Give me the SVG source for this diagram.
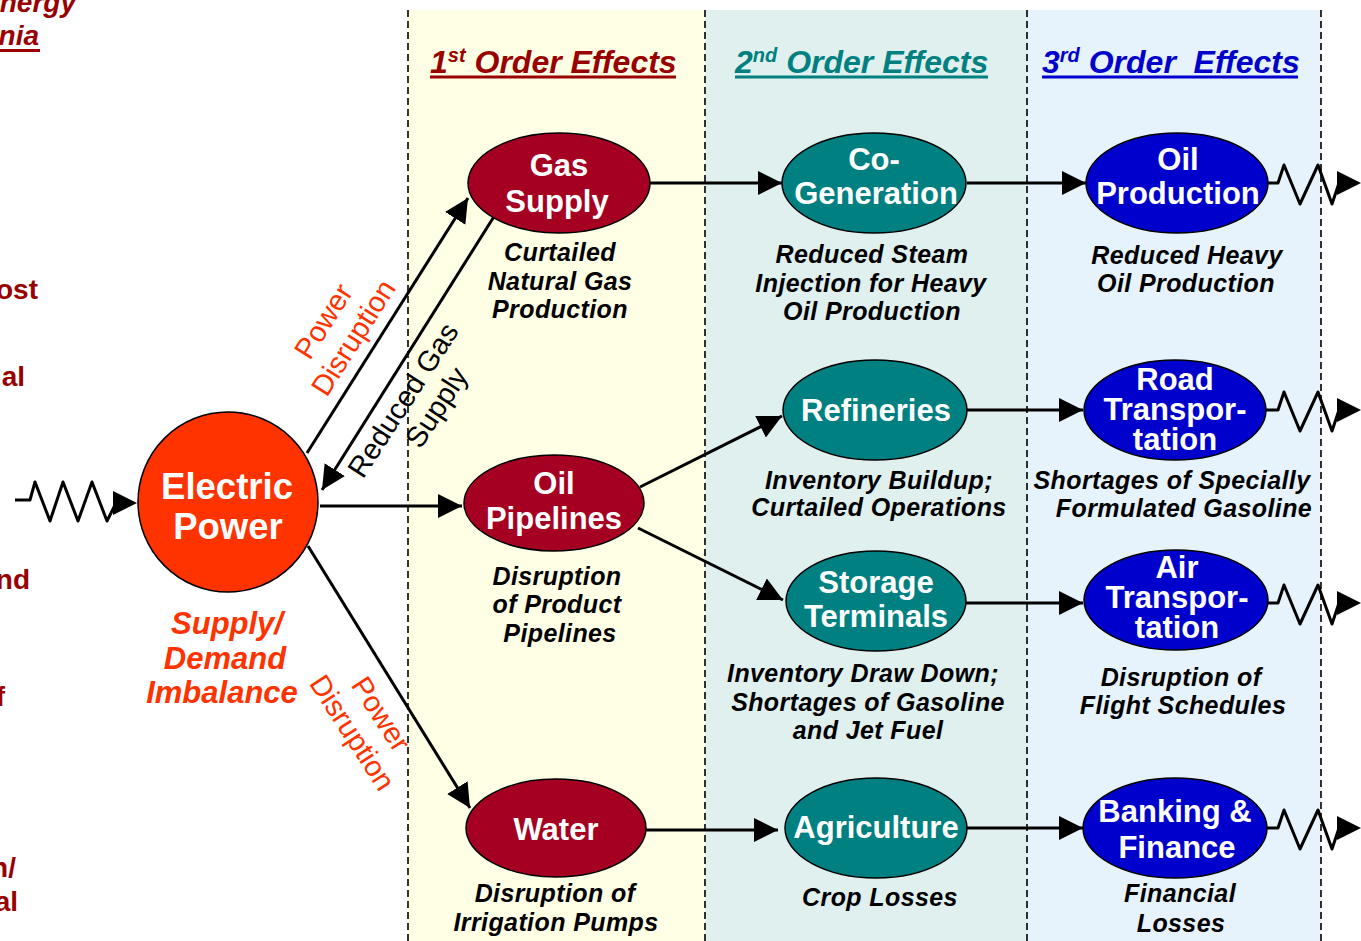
<svg xmlns="http://www.w3.org/2000/svg" width="1361" height="941" viewBox="0 0 1361 941">
<defs>
<marker id="ah" markerUnits="userSpaceOnUse" markerWidth="26" markerHeight="26" viewBox="0 0 26 26" refX="24" refY="13" orient="auto"><path d="M0,1 L24,13 L0,25 Z" fill="#000"/></marker>
<style>
.col-line{stroke:#000;stroke-width:1.6;stroke-dasharray:7,4;fill:none}
.hdr{font-family:"Liberation Sans",Arial,sans-serif;font-size:32px;font-weight:bold;font-style:italic;white-space:pre}
.sup{font-size:20px}
.node-t{font-family:"Liberation Sans",Arial,sans-serif;font-size:31px;font-weight:bold;fill:#fff;text-anchor:middle}
.big{font-size:36.5px}
.cap{font-family:"Liberation Sans",Arial,sans-serif;font-size:25px;letter-spacing:0.4px;font-weight:bold;font-style:italic;fill:#000;text-anchor:middle}
.sdi{font-family:"Liberation Sans",Arial,sans-serif;font-size:31px;font-weight:bold;font-style:italic;fill:#FF3300;text-anchor:middle}
.edge{stroke:#000;stroke-width:3;fill:none}
.red{fill:#A50021;stroke:#000;stroke-width:1.5}
.teal{fill:#008080;stroke:#000;stroke-width:1.5}
.blue{fill:#0000CC;stroke:#000;stroke-width:1.5}
.lbl{font-family:"Liberation Sans",Arial,sans-serif;font-size:29px;text-anchor:middle}
.cut{font-family:"Liberation Sans",Arial,sans-serif;font-size:28px;font-weight:bold;fill:#990000;text-anchor:end}
</style>
</defs>
<rect x="0" y="0" width="1361" height="941" fill="#fff"/>
<g id="columns">
<rect x="408" y="10" width="297" height="931" fill="#FFFFE5"/>
<rect x="705" y="10" width="322" height="931" fill="#DFF0EF"/>
<rect x="1027" y="10" width="294" height="931" fill="#E6F3FC"/>
<line class="col-line" x1="408" y1="10" x2="408" y2="941"/>
<line class="col-line" x1="705" y1="10" x2="705" y2="941"/>
<line class="col-line" x1="1027" y1="10" x2="1027" y2="941"/>
<line class="col-line" x1="1321" y1="10" x2="1321" y2="941"/>
</g>
<g id="cut-text">
<text class="cut" x="76" y="12" font-style="italic">nergy</text>
<text class="cut" x="39" y="45" font-style="italic">nia</text>
<line x1="0" y1="50.5" x2="40" y2="50.5" stroke="#990000" stroke-width="3"/>
<text class="cut" x="38" y="299">ost</text>
<text class="cut" x="25" y="386">al</text>
<text class="cut" x="30" y="589">nd</text>
<text class="cut" x="5" y="706">f</text>
<text class="cut" x="16" y="877">n/</text>
<text class="cut" x="18" y="911">al</text>
</g>
<g id="headers">
<text class="hdr" x="430" y="73" fill="#990000">1<tspan class="sup" dy="-11">st</tspan><tspan dy="11"> Order Effects</tspan></text>
<line x1="430" y1="77" x2="676" y2="77" stroke="#990000" stroke-width="3"/>
<text class="hdr" x="735" y="73" fill="#008080">2<tspan class="sup" dy="-11">nd</tspan><tspan dy="11"> Order Effects</tspan></text>
<line x1="735" y1="77" x2="988" y2="77" stroke="#008080" stroke-width="3"/>
<text class="hdr" x="1042" y="73" fill="#0000CC">3<tspan class="sup" dy="-11">rd</tspan><tspan dy="11"> Order  Effects</tspan></text>
<line x1="1042" y1="77" x2="1298" y2="77" stroke="#0000CC" stroke-width="3"/>
</g>
<g id="connectors">
<line class="edge" x1="307" y1="453" x2="468" y2="198" marker-end="url(#ah)"/>
<line class="edge" x1="495" y1="215" x2="322" y2="490" marker-end="url(#ah)"/>
<line class="edge" x1="320" y1="506" x2="462" y2="506" marker-end="url(#ah)"/>
<line class="edge" x1="308" y1="546" x2="470" y2="808" marker-end="url(#ah)"/>
<line class="edge" x1="650" y1="183" x2="782" y2="183" marker-end="url(#ah)"/>
<line class="edge" x1="640" y1="487" x2="782" y2="416" marker-end="url(#ah)"/>
<line class="edge" x1="638" y1="528" x2="783" y2="600" marker-end="url(#ah)"/>
<line class="edge" x1="646" y1="830" x2="778" y2="830" marker-end="url(#ah)"/>
<line class="edge" x1="967" y1="183" x2="1086" y2="183" marker-end="url(#ah)"/>
<line class="edge" x1="966" y1="410" x2="1083" y2="410" marker-end="url(#ah)"/>
<line class="edge" x1="966" y1="603" x2="1083" y2="603" marker-end="url(#ah)"/>
<line class="edge" x1="966" y1="828" x2="1083" y2="828" marker-end="url(#ah)"/>
<polyline class="edge" stroke-linejoin="round" points="15,500 30,500 35,482 50,521 63,482 78,521 92,482 107,521 116,503"/>
<polygon points="113,491 137,503 113,515" fill="#000"/>
<polyline class="edge" stroke-linejoin="round" points="1268,183 1278,183 1284,165 1300,204 1318,165 1332,204 1339,183"/>
<polygon points="1337,171 1361,183 1337,195" fill="#000"/>
<polyline class="edge" stroke-linejoin="round" points="1266,410 1278,410 1284,392 1300,431 1318,392 1332,431 1339,410"/>
<polygon points="1337,398 1361,410 1337,422" fill="#000"/>
<polyline class="edge" stroke-linejoin="round" points="1268,603 1278,603 1284,585 1300,624 1318,585 1332,624 1339,603"/>
<polygon points="1337,591 1361,603 1337,615" fill="#000"/>
<polyline class="edge" stroke-linejoin="round" points="1267,828 1278,828 1284,810 1300,849 1318,810 1332,849 1339,828"/>
<polygon points="1337,816 1361,828 1337,840" fill="#000"/>
</g>
<g id="edge-labels">
<text class="lbl" fill="#FF3300" transform="translate(338,328) rotate(-57.6)"><tspan x="-2" y="-6">Power</tspan><tspan x="0" y="28">Disruption</tspan></text>
<text class="lbl" fill="#000" transform="translate(403,400) rotate(-57)"><tspan x="0" y="10">Reduced Gas</tspan><tspan x="12" y="42">Supply</tspan></text>
<text class="lbl" fill="#FF3300" transform="translate(381,714) rotate(57)"><tspan x="0" y="10">Power</tspan><tspan x="0" y="44">Disruption</tspan></text>
</g>
<g id="electric-power">
<circle cx="228" cy="502" r="90" fill="#FF3300" stroke="#000" stroke-width="1.5"/>
<text class="node-t big" x="227" y="499">Electric</text>
<text class="node-t big" x="228" y="539">Power</text>
<text class="sdi" x="227" y="634">Supply/</text>
<text class="sdi" x="225" y="669">Demand</text>
<text class="sdi" x="222" y="703">Imbalance</text>
</g>
<g id="gas-supply">
<ellipse class="red" cx="559" cy="183" rx="91" ry="50"/>
<text class="node-t" x="559" y="176">Gas</text>
<text class="node-t" x="557" y="212">Supply</text>
<text class="cap" x="560" y="261">Curtailed</text>
<text class="cap" x="560" y="290">Natural Gas</text>
<text class="cap" x="560" y="318">Production</text>
</g>
<g id="oil-pipelines">
<ellipse class="red" cx="554" cy="503" rx="90" ry="48"/>
<text class="node-t" x="554" y="494">Oil</text>
<text class="node-t" x="554" y="529">Pipelines</text>
<text class="cap" x="557" y="585">Disruption</text>
<text class="cap" x="557" y="613">of Product</text>
<text class="cap" x="560" y="642">Pipelines</text>
</g>
<g id="water">
<ellipse class="red" cx="556" cy="828" rx="90" ry="49"/>
<text class="node-t" x="556" y="840">Water</text>
<text class="cap" x="555" y="902">Disruption of</text>
<text class="cap" x="556" y="931">Irrigation Pumps</text>
</g>
<g id="co-generation">
<ellipse class="teal" cx="874" cy="183" rx="92" ry="50"/>
<text class="node-t" x="874" y="170">Co-</text>
<text class="node-t" x="876" y="204">Generation</text>
<text class="cap" x="872" y="263">Reduced Steam</text>
<text class="cap" x="871" y="292">Injection for Heavy</text>
<text class="cap" x="872" y="320">Oil Production</text>
</g>
<g id="refineries">
<ellipse class="teal" cx="875" cy="410" rx="92" ry="50"/>
<text class="node-t" x="876" y="421">Refineries</text>
<text class="cap" x="879" y="489">Inventory Buildup;</text>
<text class="cap" x="879" y="516">Curtailed Operations</text>
</g>
<g id="storage-terminals">
<ellipse class="teal" cx="876" cy="601" rx="90" ry="50"/>
<text class="node-t" x="876" y="593">Storage</text>
<text class="node-t" x="876" y="627">Terminals</text>
<text class="cap" x="863" y="682">Inventory Draw Down;</text>
<text class="cap" x="868" y="711">Shortages of Gasoline</text>
<text class="cap" x="868" y="739">and Jet Fuel</text>
</g>
<g id="agriculture">
<ellipse class="teal" cx="876" cy="828" rx="91" ry="50"/>
<text class="node-t" x="876" y="838">Agriculture</text>
<text class="cap" x="880" y="906">Crop Losses</text>
</g>
<g id="oil-production">
<ellipse class="blue" cx="1177" cy="183" rx="91" ry="50"/>
<text class="node-t" x="1178" y="170">Oil</text>
<text class="node-t" x="1178" y="204">Production</text>
<text class="cap" x="1187" y="264">Reduced Heavy</text>
<text class="cap" x="1186" y="292">Oil Production</text>
</g>
<g id="road-transportation">
<ellipse class="blue" cx="1175" cy="410" rx="91" ry="50"/>
<text class="node-t" x="1175" y="390">Road</text>
<text class="node-t" x="1175" y="420">Transpor-</text>
<text class="node-t" x="1175" y="450">tation</text>
<text class="cap" x="1172" y="489">Shortages of Specially</text>
<text class="cap" x="1184" y="517">Formulated Gasoline</text>
</g>
<g id="air-transportation">
<ellipse class="blue" cx="1176" cy="600" rx="92" ry="50"/>
<text class="node-t" x="1177" y="578">Air</text>
<text class="node-t" x="1177" y="608">Transpor-</text>
<text class="node-t" x="1177" y="638">tation</text>
<text class="cap" x="1181" y="686">Disruption of</text>
<text class="cap" x="1183" y="714">Flight Schedules</text>
</g>
<g id="banking-finance">
<ellipse class="blue" cx="1175" cy="828" rx="92" ry="50"/>
<text class="node-t" x="1175" y="822">Banking &amp;</text>
<text class="node-t" x="1177" y="858">Finance</text>
<text class="cap" x="1180" y="902">Financial</text>
<text class="cap" x="1181" y="932">Losses</text>
</g>
</svg>
